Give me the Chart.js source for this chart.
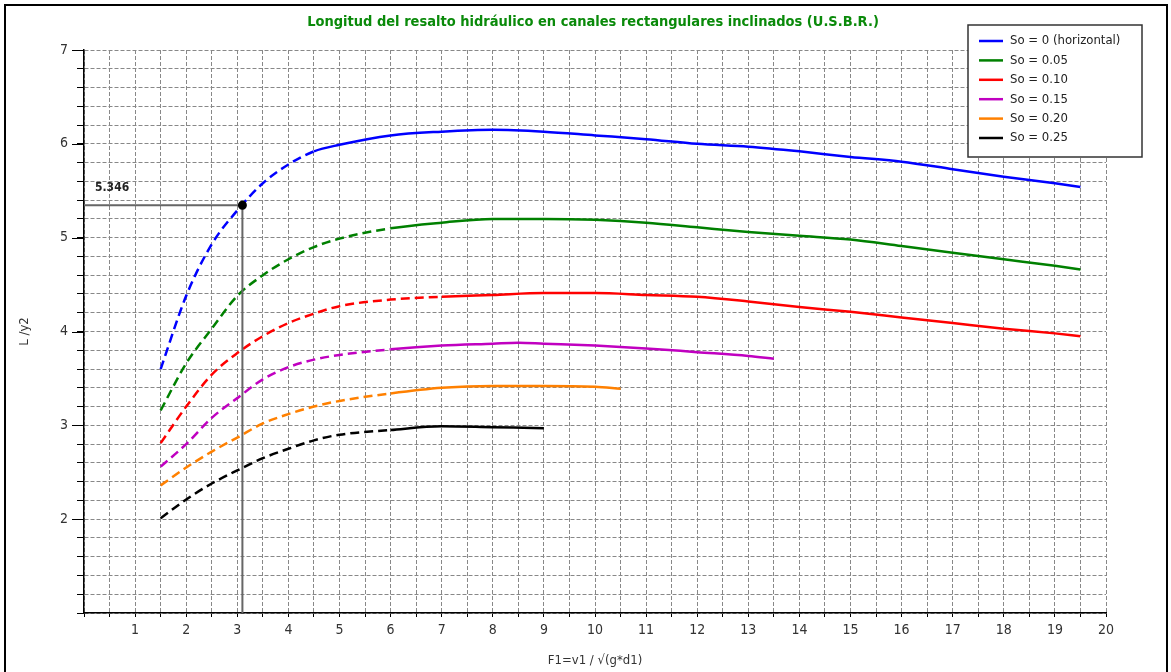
<!DOCTYPE html>
<html>
<head>
<meta charset="utf-8">
<script src="https://cdn.jsdelivr.net/npm/chart.js@4.4.0/dist/chart.umd.min.js"></script>
<style>
html, body { margin: 0; padding: 0; background: #fff; }
</style>
</head>
<body>
<canvas id="mycanvas" width="1171" height="672"></canvas>
<script>
var NARROW = '"Liberation Sans Narrow", "Arial Narrow", "DejaVu Sans Condensed", sans-serif';

var chartTitle = "Longitud del resalto hidráulico en canales rectangulares inclinados (U.S.B.R.)";
var xTitle = "F1=v1 / √(g*d1)";
var yTitle = "L /y2";

var seriesLabels = ["So = 0 (horizontal)", "So = 0.05", "So = 0.10", "So = 0.15", "So = 0.20", "So = 0.25"];
var seriesColors = ["#0000ff", "#008000", "#ff0000", "#c000c0", "#ff8000", "#000000"];
// dashed (extrapolated) part of each curve ends at this F1
var dashedUntil = [4.5, 6, 7, 6, 6, 6];

var f1So000 = [1.5, 2, 2.5, 3, 3.5, 4, 4.5, 5, 6, 7, 8, 9, 10, 11, 12, 13, 14, 15, 16, 17, 18, 19, 19.5];
var lySo000 = [3.60, 4.38, 4.93, 5.29, 5.58, 5.78, 5.92, 5.99, 6.09, 6.13, 6.15, 6.13, 6.09, 6.05, 6.00, 5.97, 5.92, 5.86, 5.81, 5.73, 5.65, 5.58, 5.54];

var f1So005 = [1.5, 2, 2.5, 3, 3.5, 4, 4.5, 5, 6, 7, 8, 9, 10, 11, 12, 13, 14, 15, 16, 17, 18, 19, 19.5];
var lySo005 = [3.16, 3.66, 4.03, 4.38, 4.60, 4.77, 4.90, 4.99, 5.10, 5.16, 5.20, 5.20, 5.19, 5.16, 5.11, 5.06, 5.02, 4.98, 4.91, 4.84, 4.77, 4.70, 4.66];

var f1So010 = [1.5, 2, 2.5, 3, 3.5, 4, 4.5, 5, 6, 7, 8, 9, 10, 11, 12, 13, 14, 15, 16, 17, 18, 19, 19.5];
var lySo010 = [2.81, 3.20, 3.54, 3.77, 3.95, 4.09, 4.19, 4.27, 4.34, 4.37, 4.39, 4.41, 4.41, 4.39, 4.37, 4.32, 4.26, 4.21, 4.15, 4.09, 4.03, 3.98, 3.95];

var f1So015 = [1.5, 2, 2.5, 3, 3.5, 4, 4.5, 5, 6, 7, 8, 8.5, 9, 10, 11, 12, 13, 13.5];
var lySo015 = [2.56, 2.80, 3.08, 3.29, 3.49, 3.62, 3.70, 3.75, 3.81, 3.85, 3.87, 3.88, 3.87, 3.85, 3.82, 3.78, 3.74, 3.71];

var f1So020 = [1.5, 2, 2.5, 3, 3.5, 4, 4.5, 5, 6, 7, 8, 9, 10, 10.5];
var lySo020 = [2.36, 2.55, 2.72, 2.87, 3.02, 3.12, 3.20, 3.26, 3.34, 3.40, 3.42, 3.42, 3.41, 3.39];

var f1So025 = [1.5, 2, 2.5, 3, 3.5, 4, 4.5, 5, 6, 7, 8, 9];
var lySo025 = [2.01, 2.21, 2.38, 2.52, 2.65, 2.75, 2.84, 2.90, 2.95, 2.99, 2.98, 2.97];

var allF1 = [f1So000, f1So005, f1So010, f1So015, f1So020, f1So025];
var allLy = [lySo000, lySo005, lySo010, lySo015, lySo020, lySo025];

// reading shown on the chart
var readF1 = 3.1;
var readLy = 5.346;

function toPoints(xs, ys) {
    var pts = [];
    for (var i = 0; i < xs.length; i++) {
        pts.push({ x: xs[i], y: ys[i] });
    }
    return pts;
}

var datasets = [];
for (var s = 0; s < seriesLabels.length; s++) {
    (function (s) {
        datasets.push({
            label: seriesLabels[s],
            data: toPoints(allF1[s], allLy[s]),
            borderColor: seriesColors[s],
            borderWidth: 2.5,
            pointRadius: 0,
            cubicInterpolationMode: 'monotone',
            segment: {
                borderDash: function (ctx) {
                    return ctx.p1.parsed.x <= dashedUntil[s] ? [9, 5] : undefined;
                }
            }
        });
    })(s);
}

datasets.push({
    label: "lectura",
    data: [{ x: 0, y: readLy }, { x: readF1, y: readLy }, { x: readF1, y: 1 }],
    borderColor: "#666666",
    borderWidth: 2,
    pointRadius: [0, 3.5, 0],
    pointBackgroundColor: "#000",
    pointBorderColor: "#000",
    order: -1
});

function isInt(v) {
    return Math.abs(v - Math.round(v)) < 1e-6;
}

var decorations = {
    id: 'decorations',
    beforeDraw: function (chart) {
        var ctx = chart.ctx;
        ctx.save();
        ctx.fillStyle = '#fff';
        ctx.fillRect(0, 0, chart.width, chart.height);
        ctx.strokeStyle = '#000';
        ctx.lineWidth = 2;
        ctx.strokeRect(5, 5, chart.width - 9, chart.height + 20);
        ctx.restore();
    },
    afterDraw: function (chart) {
        var ctx = chart.ctx;
        var area = chart.chartArea;
        var xs = chart.scales.x, ys = chart.scales.y;
        ctx.save();

        // title
        ctx.fillStyle = '#0a8a0a';
        ctx.font = 'bold 14.5px ' + NARROW;
        ctx.textAlign = 'center';
        ctx.textBaseline = 'middle';
        ctx.fillText(chartTitle, (area.left + area.right) / 2 - 2, 22);

        // longer ticks on whole numbers of y
        ctx.strokeStyle = '#000';
        ctx.lineWidth = 1;
        ys.ticks.forEach(function (t) {
            if (isInt(t.value) && t.value > 1) {
                var py = Math.round(ys.getPixelForValue(t.value)) + 0.5;
                ctx.beginPath();
                ctx.moveTo(area.left - 12, py);
                ctx.lineTo(area.left, py);
                ctx.stroke();
            }
        });

        // reading label
        ctx.fillStyle = '#222';
        ctx.font = 'bold 12px ' + NARROW;
        ctx.textAlign = 'left';
        ctx.fillText(readLy.toFixed(3), xs.getPixelForValue(0) + 11, ys.getPixelForValue(readLy) - 17);

        // legend
        var lx = 968, ly = 25, lw = 174, lh = 132;
        ctx.fillStyle = '#fff';
        ctx.fillRect(lx, ly, lw, lh);
        ctx.strokeStyle = '#333';
        ctx.lineWidth = 1.5;
        ctx.strokeRect(lx, ly, lw, lh);
        ctx.font = '13px ' + NARROW;
        for (var i = 0; i < seriesLabels.length; i++) {
            var ds = chart.data.datasets[i];
            var yy = ly + 16 + i * 19.4;
            ctx.strokeStyle = ds.borderColor;
            ctx.lineWidth = 2.5;
            ctx.beginPath();
            ctx.moveTo(lx + 11, yy);
            ctx.lineTo(lx + 35, yy);
            ctx.stroke();
            ctx.fillStyle = '#222';
            ctx.fillText(ds.label, lx + 42, yy);
        }
        ctx.restore();
    }
};

var ctx = document.getElementById('mycanvas');

var chart = new Chart(ctx, {
    type: 'line',
    data: { datasets: datasets },
    options: {
        responsive: false,
        animation: false,
        layout: { padding: { left: 0, top: 50, right: 65, bottom: 0 } },
        plugins: {
            legend: { display: false },
            title: { display: false },
            tooltip: { enabled: false }
        },
        scales: {
            x: {
                type: 'linear',
                min: 0,
                max: 20,
                afterFit: function (scale) { scale.height = 59; },
                ticks: {
                    stepSize: 0.5,
                    autoSkip: false,
                    maxRotation: 0,
                    padding: 5,
                    color: '#333',
                    font: { family: NARROW, size: 14 },
                    callback: function (v) { return (isInt(v) && v > 0) ? Math.round(v) : ''; }
                },
                grid: { color: '#888', lineWidth: 1, tickLength: 4, tickColor: '#000', tickWidth: 1 },
                border: { display: true, color: '#000', width: 1.5, dash: [4, 2] },
                title: {
                    display: true,
                    text: xTitle,
                    color: '#333',
                    font: { family: NARROW, size: 13 },
                    padding: { top: 0, bottom: 4 }
                }
            },
            y: {
                type: 'linear',
                min: 1,
                max: 7,
                afterFit: function (scale) { scale.width = 84; },
                ticks: {
                    stepSize: 0.2,
                    autoSkip: false,
                    padding: 9,
                    color: '#333',
                    font: { family: NARROW, size: 14 },
                    callback: function (v) { return (isInt(v) && v > 1) ? Math.round(v) : ''; }
                },
                grid: { color: '#888', lineWidth: 1, tickLength: 7, tickColor: '#000', tickWidth: 1 },
                border: { display: true, color: '#000', width: 1.5, dash: [4, 2] },
                title: {
                    display: true,
                    text: yTitle,
                    color: '#333',
                    font: { family: NARROW, size: 13 },
                    padding: { top: 17, bottom: 0 }
                }
            }
        }
    },
    plugins: [decorations]
});
</script>
</body>
</html>
